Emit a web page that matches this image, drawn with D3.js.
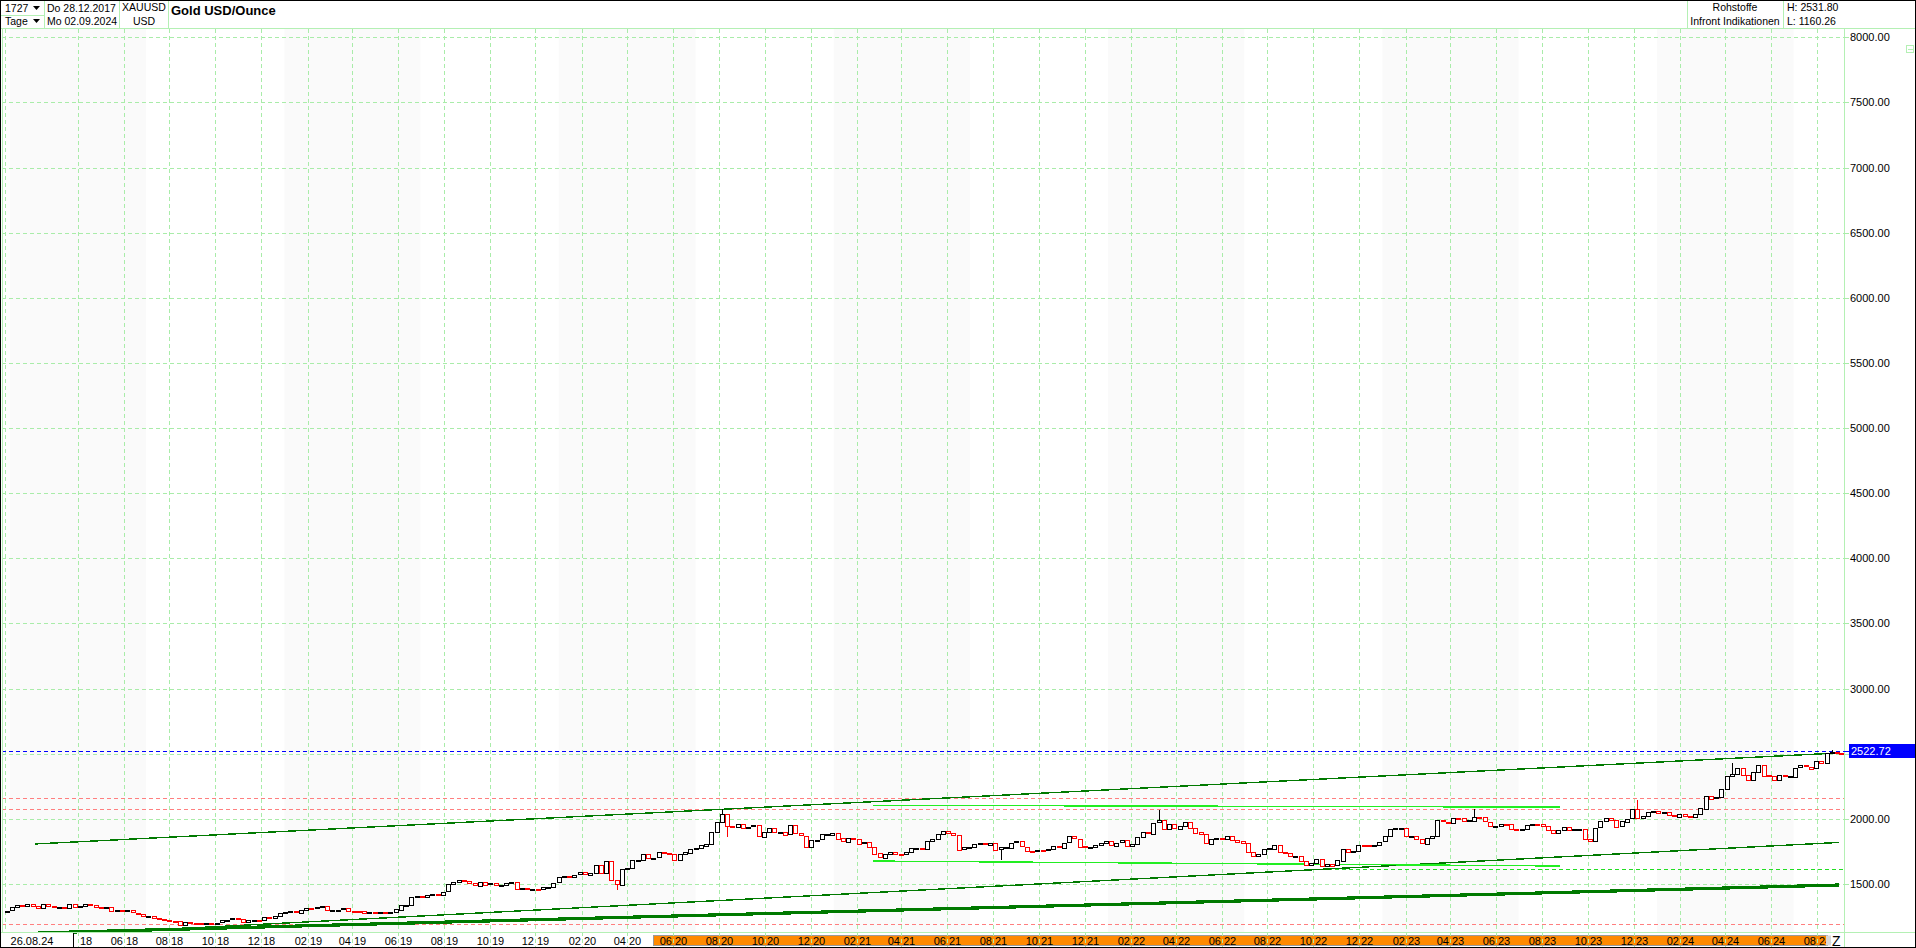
<!DOCTYPE html>
<html><head><meta charset="utf-8">
<script src="https://cdn.jsdelivr.net/npm/d3@7"></script>
<style>
html,body{margin:0;padding:0;background:#fff;overflow:hidden}
svg{display:block;font-family:Arial,"Liberation Sans",sans-serif}
</style></head><body>
<svg id="c" width="1916" height="948"></svg>
<script>
// ---------------- DATA ----------------
const startDate = "2017-12-28", endDate = "2024-09-02";
const firstClose = 1296;            // 28.12.2017
const closes2018 = [1320,1338,1332,1350, 1333,1316,1347,1330, 1323,1324,1314,1347,1325, 1332,1345,1336,1323, 1315,1320,1291,1302, 1294,1298,1279,1270,1252, 1256,1241,1231,1223, 1214,1212,1184,1206,1201, 1198,1194,1199,1192, 1203,1222,1227,1235, 1233,1209,1222,1223,1222, 1248,1238,1257,1280];
const closes2019 = [1285,1289,1282,1304, 1317,1314,1322,1328, 1294,1298,1302,1313,1292, 1291,1290,1276,1286, 1280,1285,1277,1284,1305, 1341,1341,1399,1409, 1399,1415,1426,1419, 1440,1497,1513,1527,1520, 1507,1488,1517,1497, 1504,1489,1490,1505, 1514,1459,1468,1462,1464, 1460,1476,1478,1511];
const closes2020 = [1552,1562,1557,1571,1589, 1570,1584,1643,1585, 1674,1530,1498,1617, 1620,1683,1683,1729, 1700,1702,1743,1734,1730, 1685,1730,1743,1771, 1774,1798,1810,1902,1975, 2035,1944,1940,1964, 1934,1940,1950,1862, 1900,1930,1899,1902,1879, 1951,1889,1871,1788, 1839,1840,1881,1883];
const closes2021 = [1895,1850,1828,1856,1848, 1813,1824,1784,1734, 1700,1727,1745,1733, 1729,1744,1777,1777,1769, 1831,1844,1881,1905, 1891,1877,1764,1781, 1787,1808,1812,1802,1814, 1763,1780,1781,1818, 1827,1787,1754,1751, 1761,1757,1768,1793,1783, 1818,1865,1846,1788, 1783,1783,1798,1811,1829];
const closes2022 = [1797,1818,1835,1791, 1808,1860,1898,1889, 1970,1988,1921,1958, 1925,1946,1975,1931,1896, 1883,1811,1846,1853, 1850,1871,1840,1827, 1811,1742,1708,1727,1766, 1775,1802,1747,1738, 1712,1716,1675,1644,1661, 1695,1644,1657,1645, 1681,1771,1751,1755, 1798,1797,1793,1798,1824];
const closes2023 = [1865,1920,1926,1928, 1865,1865,1842,1811, 1856,1868,1989,1978,1969, 2007,2004,1983,1990, 2017,2011,1977,1946, 1948,1961,1958,1921,1919, 1925,1955,1962,1959, 1943,1914,1889,1915, 1940,1919,1924,1925,1848, 1833,1932,1981,2006, 1992,1940,1981,2002, 2072,2005,2019,2053,2063];
const closes2024 = [2045,2049,2029,2018, 2039,2024,2013,2035, 2083,2179,2155,2165,2230, 2329,2344,2392,2337, 2302,2360,2415,2334,2327, 2294,2333,2322,2326, 2392,2411,2400,2387, 2443,2431,2507,2512,2503];
const lastClose = 2499;             // 02.09.2024
const closesByYear = {2018:closes2018,2019:closes2019,2020:closes2020,2021:closes2021,2022:closes2022,2023:closes2023,2024:closes2024};

// notable intraday extremes (date, value)
const wickDates  = ["2020-03-19","2020-08-07","2020-08-11","2021-08-09","2022-03-08","2023-05-04","2023-12-04","2024-04-12","2024-08-20"];
const wickValues = [1451,2075,1863,1684,2070,2079,2146,2431,2531];

const yTicks = [1500,2000,2500,3000,3500,4000,4500,5000,5500,6000,6500,7000,7500,8000];
const tickMonths = ["02","04","06","08","10","12"];
const tickYears  = ["18","19","20","21","22","23","24"];
const redLevels = [2160, 2075, 1193];
const limeDashedLevel = {from:"2022-10-20", value:1615};
const lastPrice = 2522.72;
const trendLines = [
  {d1:"2018-02-03", v1:1807, d2:"2024-08-31", v2:2506, w:1.4},
  {d1:"2018-05-27", v1:1134, d2:"2024-08-31", v2:1819, w:1.4},
  {d1:"2018-02-07", v1:1124, d2:"2024-08-30", v2:1492, w:3.2}
];
const limeLines = [
  {d1:"2021-02-22", v1:2104, d2:"2023-08-25", v2:2090},
  {d1:"2021-02-22", v1:1676, d2:"2023-08-25", v2:1638}
];
const header = {bars:"1727", unit:"Tage", from:"Do 28.12.2017", to:"Mo 02.09.2024", sym:"XAUUSD", cur:"USD",
  title:"Gold USD/Ounce", grp:"Rohstoffe", src:"Infront Indikationen", hi:"H: 2531.80", lo:"L: 1160.26"};
const cursorLabel = "26.08.24";
const highlightRange = ["2020-05-05","2024-08-14"];

// ---------------- SETUP ----------------
const parse = d3.timeParse("%Y-%m-%d");
const svg = d3.select("#c");
const W = 1916, H = 948;
const plotL = 2, plotR = 1844, plotT = 28, plotB = 932;
const x = d3.scaleTime().domain([parse(startDate), parse(endDate)]).range([7, 1841]);
const y = d3.scaleLinear().domain([1000, 8000]).range([949.1, 37.3]);
const gridCol = "#a9eca9", frameCol = "#b4f0b4";

// build weekly candles
const weeks = [];
let prev = firstClose;
weeks.push({d: parse(startDate), o: firstClose, c: firstClose});
Object.keys(closesByYear).forEach(yr => {
  const fridays = d3.timeFriday.range(new Date(+yr, 0, 1), new Date(+yr + 1, 0, 1));
  closesByYear[yr].forEach((c, i) => {
    const d = d3.timeDay.offset(fridays[i], -2);
    weeks.push({d, o: prev, c});
    prev = c;
  });
});
weeks.push({d: parse(endDate), o: prev, c: lastClose});

// ---------------- BACKGROUND ----------------
svg.append("rect").attr("width", W).attr("height", H).attr("fill", "#fff");
const bands = svg.append("g");
d3.range(2018, 2025).forEach(yr => {
  const x0 = Math.max(plotL, x(new Date(yr, 0, 1))), x1 = Math.min(plotR, x(new Date(yr, 6, 1)));
  if (x1 > x0) bands.append("rect").attr("x", x0).attr("y", plotT + 1).attr("width", x1 - x0)
    .attr("height", plotB - plotT - 1).attr("fill", "#fafafa");
});

// x-axis highlight band
svg.append("rect").attr("x", Math.round(x(parse(highlightRange[0])))+0.5).attr("y", 935.5)
  .attr("width", Math.round(x(parse(highlightRange[1])) - x(parse(highlightRange[0]))))
  .attr("height", 10).attr("fill", "#ff8a00").attr("stroke", "#9a9a9a");

// grid lines
const grid = svg.append("g").attr("shape-rendering", "crispEdges");
yTicks.forEach(v => {
  grid.append("line").attr("x1", plotL).attr("x2", 1848).attr("y1", Math.round(y(v)) + 0.5).attr("y2", Math.round(y(v)) + 0.5)
    .attr("stroke", gridCol).attr("stroke-dasharray", "4,3");
});
const tickDates = [];
tickYears.forEach(yy => tickMonths.forEach(mm => {
  const d = parse("20" + yy + "-" + mm + "-01");
  if (d > parse("2018-03-01") && d < parse(endDate)) tickDates.push({d, mm, yy});
}));
tickDates.forEach(t => {
  const xx = Math.round(x(t.d)) + 0.5;
  grid.append("line").attr("x1", xx).attr("x2", xx).attr("y1", plotT + 1).attr("y2", H)
    .attr("stroke", gridCol).attr("stroke-dasharray", "4,3");
});
grid.append("line").attr("x1", 5.5).attr("x2", 5.5).attr("y1", plotT + 1).attr("y2", plotB)
  .attr("stroke", gridCol).attr("stroke-dasharray", "4,3");

// reference lines
const lines = svg.append("g").attr("shape-rendering", "crispEdges");
redLevels.forEach(v => {
  lines.append("line").attr("x1", plotL).attr("x2", plotR).attr("y1", Math.round(y(v)) + 0.5).attr("y2", Math.round(y(v)) + 0.5)
    .attr("stroke", "#ff7f7f").attr("stroke-dasharray", "4,3");
});
lines.append("line").attr("x1", x(parse(limeDashedLevel.from))).attr("x2", plotR)
  .attr("y1", Math.round(y(limeDashedLevel.value)) + 0.5).attr("y2", Math.round(y(limeDashedLevel.value)) + 0.5)
  .attr("stroke", "#22dd22").attr("stroke-dasharray", "4,3");
trendLines.forEach(t => {
  lines.append("line").attr("x1", x(parse(t.d1))).attr("y1", y(t.v1)).attr("x2", x(parse(t.d2))).attr("y2", y(t.v2))
    .attr("stroke", "#007a00").attr("stroke-width", t.w);
});
limeLines.forEach(t => {
  lines.append("line").attr("x1", x(parse(t.d1))).attr("y1", y(t.v1)).attr("x2", x(parse(t.d2))).attr("y2", y(t.v2))
    .attr("stroke", "#22ee22").attr("stroke-width", 1.4);
});
lines.append("line").attr("x1", plotL).attr("x2", 1848).attr("y1", Math.round(y(lastPrice)) + 0.5).attr("y2", Math.round(y(lastPrice)) + 0.5)
  .attr("stroke", "#0000ff").attr("stroke-dasharray", "4,3");

// ---------------- CANDLES ----------------
const cg = svg.append("g").attr("shape-rendering", "crispEdges");
wickDates.forEach((ds, i) => {
  const d = parse(ds);
  const w = weeks.reduce((a, b) => Math.abs(b.d - d) < Math.abs(a.d - d) ? b : a);
  const v = wickValues[i];
  const edge = v > Math.max(w.o, w.c) ? Math.max(w.o, w.c) : Math.min(w.o, w.c);
  cg.append("line").attr("x1", Math.round(x(w.d)) + 0.5).attr("x2", Math.round(x(w.d)) + 0.5)
    .attr("y1", y(v)).attr("y2", y(edge)).attr("stroke", w.c >= w.o ? "#000" : "#ff0000");
});
const bw = 4;
cg.selectAll("rect.c").data(weeks).join("rect").attr("class", "c")
  .attr("x", d => Math.round(x(d.d) - bw / 2) + 0.5)
  .attr("y", d => Math.round(y(Math.max(d.o, d.c))) + 0.5)
  .attr("width", bw)
  .attr("height", d => Math.max(1, Math.round(Math.abs(y(d.o) - y(d.c)))))
  .attr("fill", "#fff")
  .attr("stroke", d => d.c >= d.o ? "#000" : "#ff0000");

// ---------------- FRAME / AXES ----------------
const fr = svg.append("g").attr("shape-rendering", "crispEdges");
fr.append("rect").attr("x", plotR + 1).attr("y", plotT + 1).attr("width", W - plotR - 1).attr("height", plotB - plotT - 1).attr("fill", "#fff");
fr.append("line").attr("x1", 0).attr("x2", W).attr("y1", plotB + 0.5).attr("y2", plotB + 0.5).attr("stroke", frameCol);
fr.append("line").attr("x1", plotR + 0.5).attr("x2", plotR + 0.5).attr("y1", plotT).attr("y2", H).attr("stroke", frameCol);
fr.append("line").attr("x1", 2.5).attr("x2", 2.5).attr("y1", plotT).attr("y2", plotB).attr("stroke", frameCol);
fr.append("line").attr("x1", 0).attr("x2", W).attr("y1", plotT + 0.5).attr("y2", plotT + 0.5).attr("stroke", frameCol);
const ya = svg.append("g");
yTicks.forEach(v => {
  ya.append("line").attr("x1", plotR).attr("x2", 1849).attr("y1", Math.round(y(v)) + 0.5).attr("y2", Math.round(y(v)) + 0.5)
    .attr("stroke", gridCol).attr("shape-rendering", "crispEdges");
  ya.append("text").attr("x", 1850).attr("y", y(v)).attr("dy", "0.36em").attr("font-size", 11).attr("fill", "#000")
    .text(v.toFixed(2));
});
ya.append("line").attr("x1", plotR).attr("x2", 1849).attr("y1", Math.round(y(lastPrice)) + 0.5).attr("y2", Math.round(y(lastPrice)) + 0.5)
  .attr("stroke", "#0000ff").attr("shape-rendering", "crispEdges");
ya.append("rect").attr("x", 1849).attr("y", Math.round(y(lastPrice)) - 7).attr("width", W - 1849).attr("height", 14).attr("fill", "#0000ff");
ya.append("text").attr("x", 1851).attr("y", y(lastPrice)).attr("dy", "0.36em").attr("font-size", 11).attr("fill", "#fff")
  .text(lastPrice.toFixed(2));
ya.append("rect").attr("x", 1906.5).attr("y", 45.5).attr("width", 7).attr("height", 7).attr("fill", "none").attr("stroke", frameCol).attr("shape-rendering", "crispEdges");
ya.append("line").attr("x1", 1908).attr("x2", 1913).attr("y1", 49.5).attr("y2", 49.5).attr("stroke", frameCol).attr("shape-rendering", "crispEdges");

// x labels
const xa = svg.append("g").attr("font-size", 11).attr("fill", "#000");
tickDates.forEach(t => {
  const xx = Math.round(x(t.d)) + 0.5;
  if (xx - 16 > 75) xa.append("text").attr("x", xx - 1.5).attr("y", 945).attr("text-anchor", "end").text(t.mm);
  xa.append("text").attr("x", xx + 1.5).attr("y", 945).attr("text-anchor", "start").text(t.yy);
});
xa.append("rect").attr("x", 0).attr("y", plotB + 1).attr("width", 74).attr("height", H - plotB - 1).attr("fill", "#fff");
xa.append("line").attr("x1", 73.5).attr("x2", 73.5).attr("y1", plotB + 1).attr("y2", H).attr("stroke", "#000").attr("shape-rendering", "crispEdges");
xa.append("text").attr("x", 32).attr("y", 945).attr("text-anchor", "middle").text(cursorLabel);
xa.append("rect").attr("x", 1826).attr("y", 935.5).attr("width", 5).attr("height", 10).attr("fill", "#d8d8d8");
xa.append("text").attr("x", 1832).attr("y", 946).attr("font-size", 14).text("Z");

// ---------------- HEADER ----------------
const hd = svg.append("g").attr("font-size", 10.5).attr("fill", "#000");
const hl = (x1, y1, x2, y2, c) => hd.append("line").attr("x1", x1).attr("y1", y1).attr("x2", x2).attr("y2", y2)
  .attr("stroke", c || frameCol).attr("shape-rendering", "crispEdges");
[44.5, 119.5, 168.5, 1687.5, 1783.5].forEach(v => hl(v, 0, v, plotT));
hl(0, 15.5, 44, 15.5);
hd.append("text").attr("x", 5).attr("y", 12).text(header.bars);
hd.append("text").attr("x", 5).attr("y", 25).text(header.unit);
hd.append("path").attr("d", "M33,6 L40,6 L36.5,10 Z").attr("fill", "#000");
hd.append("path").attr("d", "M33,19 L40,19 L36.5,23 Z").attr("fill", "#000");
hd.append("text").attr("x", 47).attr("y", 12).text(header.from);
hd.append("text").attr("x", 47).attr("y", 25).text(header.to);
hd.append("text").attr("x", 144).attr("y", 11).attr("text-anchor", "middle").text(header.sym);
hd.append("text").attr("x", 144).attr("y", 25).attr("text-anchor", "middle").text(header.cur);
hd.append("text").attr("x", 171).attr("y", 15).attr("font-size", 13).attr("font-weight", "bold").text(header.title);
hd.append("text").attr("x", 1735).attr("y", 11).attr("text-anchor", "middle").text(header.grp);
hd.append("text").attr("x", 1735).attr("y", 25).attr("text-anchor", "middle").text(header.src);
hd.append("text").attr("x", 1787).attr("y", 11).text(header.hi);
hd.append("text").attr("x", 1787).attr("y", 25).text(header.lo);

svg.append("rect").attr("x", 0.5).attr("y", 0.5).attr("width", W - 1).attr("height", H - 1)
  .attr("fill", "none").attr("stroke", "#000").attr("shape-rendering", "crispEdges");
</script>
</body></html>
